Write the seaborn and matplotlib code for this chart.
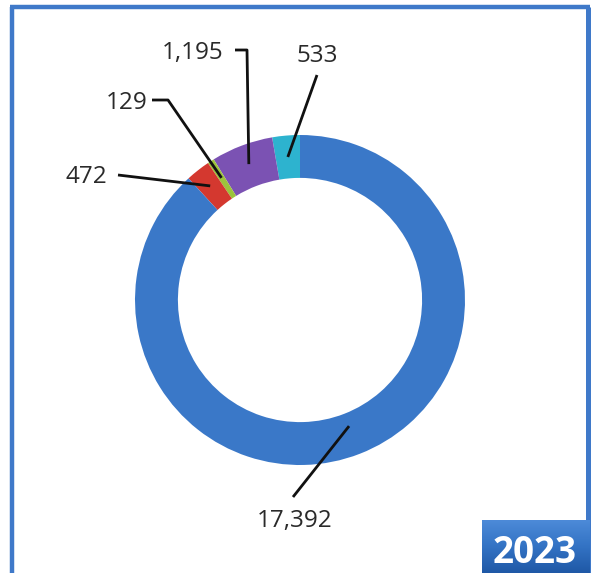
import numpy as np
import matplotlib
matplotlib.use("Agg")
import matplotlib.pyplot as plt
import seaborn as sns
from matplotlib.colors import LinearSegmentedColormap

# ---- data ----
values = [533, 1195, 129, 472, 17392]
labels = ["533", "1,195", "129", "472", "17,392"]
colors = ["#2db3cf", "#7b52b3", "#9cc43c", "#d4382f", "#3a78c8"]
year = "2023"

sns.set_theme(style="white")
plt.rcParams['font.family'] = ['Open Sans', 'DejaVu Sans']

W, H = 595, 573
fig = plt.figure(figsize=(W / 100, H / 100), dpi=100)
ax = fig.add_axes([0, 0, 1, 1])

cx, cy, R = 300, H - 300, 165
wedges, _ = ax.pie(values, colors=colors, startangle=90, counterclock=True,
                   center=(cx, cy), radius=R, frame=True,
                   wedgeprops=dict(width=R * 0.26, linewidth=0))

# label layout (image pixel coords: text center x, baseline y, knee points, end radius frac)
layout = [
    dict(tx=317.5, ty=62, knees=[(317, 75)], r=0.87),
    dict(tx=192.5, ty=59, knees=[(235, 50), (247, 50)], r=0.88),
    dict(tx=126.5, ty=109, knees=[(152, 100), (168, 100)], r=0.88),
    dict(tx=86, ty=183, knees=[(118, 175)], r=0.88),
    dict(tx=294.5, ty=527, knees=[(293, 497)], r=0.82),
]
for w, lab, lay in zip(wedges, labels, layout):
    ang = np.deg2rad((w.theta1 + w.theta2) / 2)
    ex = cx + lay["r"] * R * np.cos(ang)
    ey = cy + lay["r"] * R * np.sin(ang)
    xs = [k[0] for k in lay["knees"]] + [ex]
    ys = [H - k[1] for k in lay["knees"]] + [ey]
    ax.plot(xs, ys, color="#111111", lw=2.0, solid_capstyle="butt", zorder=5)
    ax.text(lay["tx"], H - lay["ty"], lab, ha="center", va="baseline",
            fontsize=17.5, color="#2a2a2a", zorder=6)

# frame
bc = "#3f79c9"
ax.plot([11.5, 11.5], [0, H - 7], color=bc, lw=3.2, solid_capstyle="butt")
ax.plot([9.5, 590], [H - 7, H - 7], color=bc, lw=3.2, solid_capstyle="butt")
ax.plot([587.5, 587.5], [0, H - 7], color=bc, lw=3.6, solid_capstyle="butt")

# year box with gradient
cmap = LinearSegmentedColormap.from_list("yb", ["#1f58a6", "#3373c4", "#4d8ad8"])
grad = np.linspace(0, 1, 100).reshape(-1, 1)
ax.imshow(grad, extent=[482, 590, 0, 53], origin="lower", cmap=cmap,
          aspect="auto", zorder=7)
ax.text(535, 10, year, ha="center", va="baseline", fontsize=26.5,
        fontweight="bold", color="white", zorder=8)

ax.set_xlim(0, W)
ax.set_ylim(0, H)
ax.set_aspect("auto")
ax.axis("off")
fig.savefig("out.png", dpi=100, facecolor="white")
